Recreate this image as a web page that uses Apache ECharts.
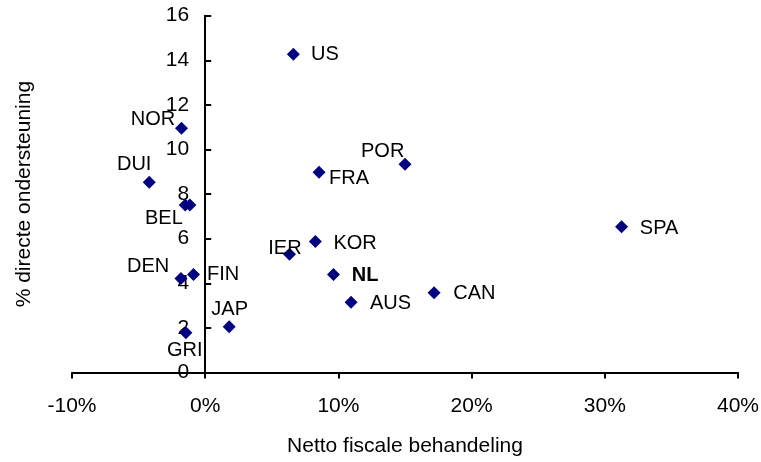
<!DOCTYPE html>
<html>
<head>
<meta charset="utf-8">
<script src="https://cdn.jsdelivr.net/npm/echarts@6/dist/echarts.min.js"></script>
<style>
html,body{margin:0;padding:0;background:#fff;}
#chart{width:761px;height:462px;}
</style>
</head>
<body>
<div id="chart"></div>
<script>
// Data
const countries = ['US','NOR','DUI','POR','FRA','BEL','','SPA','IER','KOR','DEN','FIN','NL','CAN','AUS','JAP','GRI'];
const fiscal    = [6.62,-1.78,-4.2,15.0,8.55,-1.5,-1.15,31.26,6.33,8.27,-1.82,-0.88,9.63,17.18,10.95,1.8,-1.45];
const support   = [14.27,10.95,8.53,9.34,8.98,7.51,7.51,6.54,5.3,5.87,4.22,4.40,4.39,3.58,3.15,2.05,1.78];
const xTicks = [-10,0,10,20,30,40];
const yTicks = [0,2,4,6,8,10,12,14,16];

// Label layout (pixel offsets of label centre from marker centre)
const labelOffsets = {
  'US':[31.5,0.7],'NOR':[-28.4,-9],'DUI':[-15.1,-17.3],'POR':[-22.3,-12.6],'FRA':[30,6],
  'BEL':[-21.3,13.3],'SPA':[37.5,1.6],'IER':[-4.6,-6],'KOR':[39.7,1.6],'DEN':[-32.9,-12.3],
  'FIN':[29.7,-0.3],'NL':[31.6,1.3],'CAN':[40.3,0.6],'AUS':[39.5,1],'JAP':[0.5,-17.4],'GRI':[-1.2,17.3]
};

const FONT = 'Liberation Sans, Arial, sans-serif';
const GRID = {left:72,right:23,top:15.7,bottom:89.5};
const W = 761, H = 462;
const xMin = xTicks[0], xMax = xTicks[xTicks.length-1];
// y axis crosses at x = 0: shift it inward from the grid's left edge
const yAxisShift = (0 - xMin) / (xMax - xMin) * (W - GRID.left - GRID.right);

const points = countries.map((n,i)=>({
  name:n,
  value:[fiscal[i],support[i]],
  label:{show:!!n, fontWeight: n==='NL'?'bold':'normal'}
}));

const chart = echarts.init(document.getElementById('chart'));
chart.setOption({
  animation:false,
  backgroundColor:'#fff',
  grid:Object.assign({containLabel:false,outerBoundsMode:'none'},GRID),
  xAxis:{
    type:'value',
    min:xMin,max:xMax,interval:10,
    name:'Netto fiscale behandeling',nameLocation:'middle',nameGap:63,
    nameTextStyle:{color:'#000',fontSize:21,fontFamily:FONT},
    axisLine:{onZero:false,lineStyle:{color:'#000',width:2}},
    axisTick:{show:true,inside:false,length:6,lineStyle:{color:'#000',width:2}},
    axisLabel:{color:'#000',fontSize:21,fontFamily:FONT,margin:23,formatter:v=>v+'%'},
    splitLine:{show:false}
  },
  yAxis:{
    type:'value',
    min:yTicks[0],max:yTicks[yTicks.length-1],interval:2,
    offset:-yAxisShift,
    name:'% directe ondersteuning',nameLocation:'middle',nameGap:170,
    nameTextStyle:{color:'#000',fontSize:21,fontFamily:FONT},
    axisLine:{show:true,onZero:false,lineStyle:{color:'#000',width:2}},
    axisTick:{show:true,inside:true,length:6,lineStyle:{color:'#000',width:2}},
    axisLabel:{color:'#000',fontSize:21,fontFamily:FONT,margin:16},
    splitLine:{show:false}
  },
  series:[{
    type:'scatter',
    symbol:'diamond',
    symbolSize:13,
    itemStyle:{color:'#000080',opacity:1},
    label:{show:true,position:'inside',color:'#000',fontSize:20,fontFamily:FONT,
      textBorderWidth:0,textBorderColor:'transparent',opacity:1,
      formatter:p=>p.name, align:'center', verticalAlign:'middle'},
    labelLayout:function(params){
      const n = countries[params.dataIndex];
      const o = labelOffsets[n] || [0,0];
      return {dx:o[0], dy:o[1], hideOverlap:false};
    },
    emphasis:{disabled:true},
    data:points
  }]
});
</script>
</body>
</html>
